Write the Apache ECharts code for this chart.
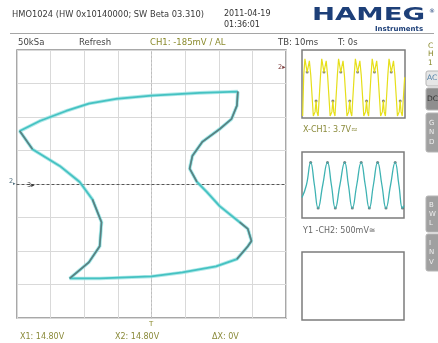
<!DOCTYPE html>
<html>
<head>
<meta charset="utf-8">
<script src="https://cdn.jsdelivr.net/npm/echarts@6/dist/echarts.min.js"></script>
<style>
  html, body { margin: 0; padding: 0; background: #fff; }
  #chart { width: 438px; height: 343px; }
</style>
</head>
<body>
<div id="chart"></div>
<script>
// X-Y trace: CH1 (V) on X, CH2 (V) on Y, one closed loop
const xyTrace = [
  [9.5, 1.38], [5.3, 1.36], [0, 1.32], [-3.9, 1.27], [-6.9, 1.2], [-9.4, 1.09],
  [-12.3, 0.94], [-14.5, 0.79], [-13.1, 0.52], [-10.1, 0.27], [-7.9, 0.03],
  [-6.5, -0.23], [-5.5, -0.57], [-5.7, -0.93], [-6.9, -1.17], [-9.0, -1.41],
  [-5.7, -1.41], [0, -1.38], [3.4, -1.32], [7.1, -1.23], [9.4, -1.12],
  [10.6, -0.93], [11.0, -0.85], [10.6, -0.67], [9.7, -0.57], [7.5, -0.33],
  [6.1, -0.12], [5.0, 0.03], [4.2, 0.23], [4.5, 0.42], [5.6, 0.63],
  [7.5, 0.82], [8.8, 0.97], [9.4, 1.17], [9.5, 1.38]
];
// index ranges of the loop that are drawn with the darker persistence colour
const darkRuns = [[7, 8], [11, 15], [20, 24], [27, 34]];

// CH1 time view (ms, normalised amplitude)
const ch1Time = [
  [0.4,-0.94],[1.0,0.26],[1.7,0.74],[3.0,0.35],[4.3,0.68],[5.1,0.26],[6.6,-0.94],[7.6,-0.82],[8.2,-0.5],[8.7,-0.82],[9.4,-0.94],
  [10.2,-0.94],[10.8,0.26],[11.5,0.74],[12.8,0.35],[14.1,0.68],[14.9,0.26],[16.4,-0.94],[17.4,-0.82],[18.0,-0.5],[18.5,-0.82],[19.2,-0.94],
  [20.0,-0.94],[20.6,0.26],[21.3,0.74],[22.6,0.35],[23.9,0.68],[24.7,0.26],[26.2,-0.94],[27.2,-0.82],[27.8,-0.5],[28.3,-0.82],[29.0,-0.94],
  [29.8,-0.94],[30.4,0.26],[31.1,0.74],[32.4,0.35],[33.7,0.68],[34.5,0.26],[36.0,-0.94],[37.0,-0.82],[37.6,-0.5],[38.1,-0.82],[38.8,-0.94],
  [39.6,-0.94],[40.2,0.26],[40.9,0.74],[42.2,0.35],[43.5,0.68],[44.3,0.26],[45.8,-0.94],[46.8,-0.82],[47.4,-0.5],[47.9,-0.82],[48.6,-0.94],
  [49.4,-0.94],[50.0,0.26],[50.7,0.74],[52.0,0.35],[53.3,0.68],[54.1,0.26],[55.6,-0.94],[56.6,-0.82],[57.2,-0.5],[57.7,-0.82],[58.4,-0.94],
  [59.2,-0.94],[59.8,0.2]
];
const ch1Dots = [[3.0,0.35],[8.2,-0.5],[12.8,0.35],[18.0,-0.5],[22.6,0.35],[27.8,-0.5],
  [32.4,0.35],[37.6,-0.5],[42.2,0.35],[47.4,-0.5],[52.0,0.35],[57.2,-0.5]];

// CH2 time view (ms, normalised amplitude)
const ch2Time = [
  [0,-0.38],[2.6,0],[5.1,0.68],[7.3,0],[9.5,-0.70],[12.2,0],[15.0,0.68],[17.3,0],
  [19.6,-0.70],[22.3,0],[25.1,0.68],[27.3,0],[29.6,-0.70],[32.2,0],[34.8,0.68],[37.2,0],
  [39.6,-0.70],[42.0,0],[44.5,0.68],[47.0,0],[49.4,-0.70],[52.1,0],[54.8,0.68],[57.0,0],
  [59.1,-0.70],[60,-0.62]
];
const ch2Dots = [[5.1,0.68],[9.5,-0.70],[15.0,0.68],[19.6,-0.70],[25.1,0.68],[29.6,-0.70],
  [34.8,0.68],[39.6,-0.70],[44.5,0.68],[49.4,-0.70],[54.8,0.68],[59.1,-0.70]];

// graticule scales
const xVoltsPerDiv = 3.7;
const yVoltsPerDiv = 0.5;
const divs = 4;

const headerTexts = [
  { t: '50kSa', x: 18, c: '#444' },
  { t: 'Refresh', x: 79, c: '#444' },
  { t: 'CH1: -185mV / AL', x: 150, c: '#8a8a2c' },
  { t: 'TB: 10ms', x: 278, c: '#444' },
  { t: 'T: 0s', x: 338, c: '#444' }
];
const footerTexts = [
  { t: 'X1: 14.80V', x: 20 },
  { t: 'X2: 14.80V', x: 115 },
  { t: '\u0394X: 0V', x: 212 }
];
const sideButtons = [
  { y: 71, h: 15, bg: '#e6e6e6', fg: '#4f7fa6', letters: ['AC'], horiz: true },
  { y: 88, h: 22, bg: '#8e8e8e', fg: '#333', letters: ['DC'], horiz: true },
  { y: 113, h: 39, bg: '#a0a0a0', fg: '#eee', letters: ['G', 'N', 'D'] },
  { y: 196, h: 36, bg: '#a0a0a0', fg: '#eee', letters: ['B', 'W', 'L'] },
  { y: 234, h: 37, bg: '#a0a0a0', fg: '#eee', letters: ['I', 'N', 'V'] }
];

const FONT = '"DejaVu Sans", sans-serif';
const chart = echarts.init(document.getElementById('chart'), null, { renderer: 'canvas' });

function txt(t, x, y, size, color, extra) {
  return Object.assign({
    type: 'text', x: x, y: y, z: 10,
    style: { text: t, fill: color, font: size + 'px ' + FONT, textVerticalAlign: 'middle' }
  }, extra || {});
}

const graphics = [];
graphics.push(txt('HMO1024 (HW 0x10140000; SW Beta 03.310)', 12, 15, 8.3, '#3a3a3a'));
graphics.push(txt('2011-04-19', 224, 14, 8, '#333'));
graphics.push(txt('01:36:01', 224, 25, 8, '#333'));
graphics.push({ type: 'line', shape: { x1: 10, y1: 33.5, x2: 434, y2: 33.5 }, style: { stroke: '#a5a5a5', lineWidth: 1 } });
headerTexts.forEach(h => graphics.push(txt(h.t, h.x, 43, 8.5, h.c)));
footerTexts.forEach(f => graphics.push(txt(f.t, f.x, 337, 8, '#8a8a3a')));

// logo
graphics.push({
  type: 'text', x: 312, y: 16, scaleX: 1.62, z: 10,
  style: { text: 'HAMEG', fill: '#1d3f78', font: '900 17px ' + FONT, textVerticalAlign: 'middle' }
});
graphics.push(txt('\u00ae', 429, 11, 6, '#1d3f78'));
graphics.push(txt('Instruments', 375, 29, 7, '#1d3f78', {
  style: { text: 'Instruments', fill: '#1d3f78', font: 'bold 7px ' + FONT, textVerticalAlign: 'middle' }
}));

// channel label on the right edge
['C', 'H', '1'].forEach((l, i) => graphics.push(txt(l, 428, 46 + i * 8.5, 7.5, '#8a8a2c')));
sideButtons.forEach(b => {
  graphics.push({ type: 'rect', shape: { x: 426, y: b.y, width: 20, height: b.h, r: 2 },
    style: { fill: b.bg, stroke: '#b5b5b5', lineWidth: 1 } });
  if (b.horiz) {
    graphics.push(txt(b.letters[0], 427, b.y + b.h / 2, 7.5, b.fg));
  } else {
    const step = b.h / (b.letters.length + 1);
    b.letters.forEach((l, i) => graphics.push(txt(l, 429, b.y + step * (i + 1), 7, b.fg)));
  }
});

// panel captions
graphics.push(txt('X-CH1: 3.7V\u2248', 303, 130, 8, '#8a8a3a'));
graphics.push(txt('Y1 -CH2: 500mV\u2245', 303, 231, 8, '#666'));

// small markers on the graticule
graphics.push(txt('2\u25b8', 278, 67, 6.5, '#7a3a3a'));
graphics.push(txt('2', 9, 181, 6.5, '#4a6a7a'));
graphics.push(txt('\u25b8', 13, 184, 5, '#4a6a7a'));
graphics.push(txt('3\u25b8', 27, 185, 6.5, '#333'));
graphics.push(txt('T', 149, 324, 7, '#8a8a2c'));

const mainGrid = { left: 17, top: 50, width: 269, height: 268, show: true, borderColor: '#8c8c8c', borderWidth: 1.5, backgroundColor: '#fff' };
const panelGrids = [
  { left: 302, top: 50, width: 103, height: 68 },
  { left: 302, top: 152, width: 102, height: 66 },
  { left: 302, top: 252, width: 102, height: 68 }
].map(g => Object.assign({ show: true, borderColor: '#7c7c7c', borderWidth: 1.5, backgroundColor: '#fff' }, g));

const hiddenX = i => ({ type: 'value', gridIndex: i, min: 0, max: 60, show: false });
const hiddenY = i => ({ type: 'value', gridIndex: i, min: -1, max: 1, show: false });

const series = [
  { type: 'line', xAxisIndex: 0, yAxisIndex: 0, data: xyTrace, symbol: 'none', z: 3,
    lineStyle: { color: '#8fe0e0', width: 3.6, opacity: 0.7 } },
  { type: 'line', xAxisIndex: 0, yAxisIndex: 0, data: xyTrace, symbol: 'none', z: 4,
    lineStyle: { color: '#45c2c2', width: 1.8 } }
];
darkRuns.forEach(r => series.push({
  type: 'line', xAxisIndex: 0, yAxisIndex: 0, data: xyTrace.slice(r[0], r[1] + 1),
  symbol: 'none', z: 5, lineStyle: { color: '#5e7f80', width: 1.6 }
}));
series.push(
  { type: 'line', xAxisIndex: 1, yAxisIndex: 1, data: ch1Time, symbol: 'none',
    lineStyle: { color: '#e6df1a', width: 1.2 } },
  { type: 'scatter', xAxisIndex: 1, yAxisIndex: 1, data: ch1Dots, symbolSize: 3,
    itemStyle: { color: '#6b6b50' } },
  { type: 'line', xAxisIndex: 2, yAxisIndex: 2, data: ch2Time, symbol: 'none', smooth: 0.5,
    lineStyle: { color: '#3fb3b3', width: 1.3 } },
  { type: 'scatter', xAxisIndex: 2, yAxisIndex: 2, data: ch2Dots, symbolSize: 3,
    itemStyle: { color: '#4c6464' } }
);

chart.setOption({
  animation: false,
  backgroundColor: '#fff',
  grid: [mainGrid].concat(panelGrids),
  xAxis: [
    { type: 'value', gridIndex: 0, min: -divs * xVoltsPerDiv, max: divs * xVoltsPerDiv, interval: xVoltsPerDiv,
      axisLabel: { show: false }, axisTick: { show: false },
      axisLine: { show: true, onZero: true, lineStyle: { color: '#555', width: 1, type: [2, 3] } },
      splitLine: { show: true, lineStyle: { color: '#d9d9d9', width: 1 } } },
    hiddenX(1), hiddenX(2), hiddenX(3)
  ],
  yAxis: [
    { type: 'value', gridIndex: 0, min: -divs * yVoltsPerDiv, max: divs * yVoltsPerDiv, interval: yVoltsPerDiv,
      axisLabel: { show: false }, axisTick: { show: false },
      axisLine: { show: true, onZero: true, lineStyle: { color: '#bdbdbd', width: 1, type: [2, 2] } },
      splitLine: { show: true, lineStyle: { color: '#d9d9d9', width: 1 } } },
    hiddenY(1), hiddenY(2), hiddenY(3)
  ],
  series: series,
  graphic: { elements: graphics }
});
</script>
</body>
</html>
